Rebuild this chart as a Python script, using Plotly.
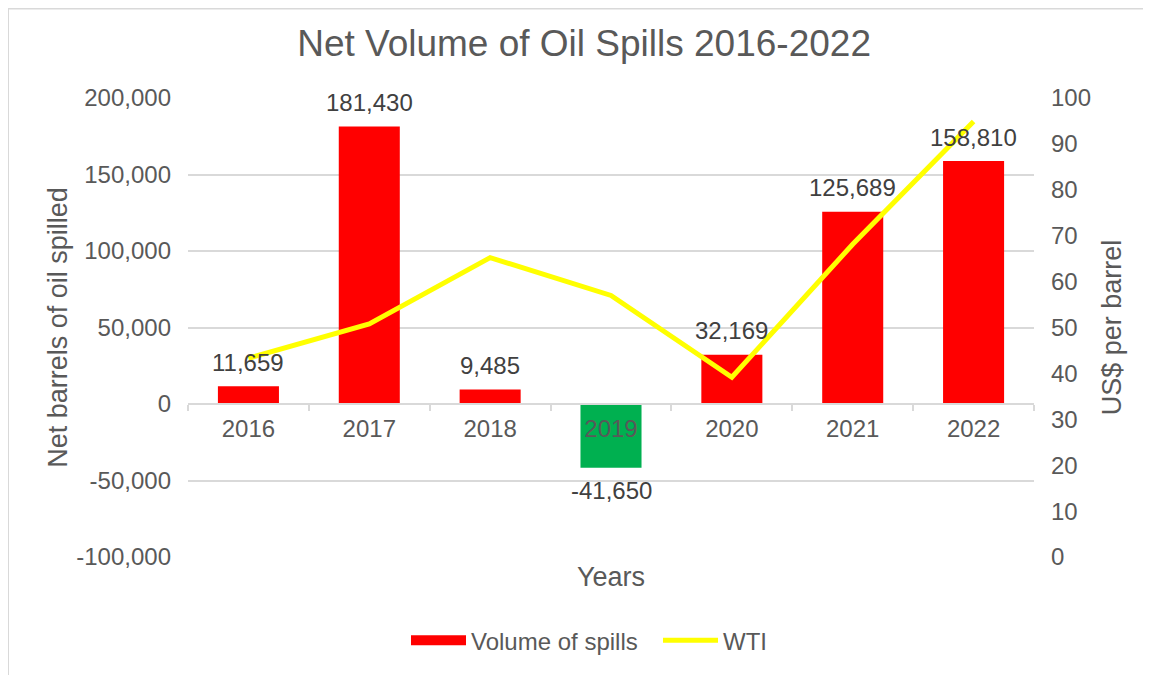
import plotly.graph_objects as go

years = ["2016", "2017", "2018", "2019", "2020", "2021", "2022"]
spill_volume = [11659, 181430, 9485, -41650, 32169, 125689, 158810]
wti_price = [43.29, 50.80, 65.23, 56.99, 39.16, 68.14, 94.90]

left_ticks = [-100000, -50000, 0, 50000, 100000, 150000, 200000]
right_ticks = [0, 10, 20, 30, 40, 50, 60, 70, 80, 90, 100]

RED = "#FF0000"
GREEN = "#00B050"
YELLOW = "#FFFF00"
AXIS_TXT = "#595959"
LABEL_TXT = "#404040"
GRID = "#D9D9D9"
FONT = "Liberation Sans, Arial, Helvetica, sans-serif"

W, H = 1143, 667
ML, MR, MT, MB = 180, 117, 90, 115

bar_colors = [GREEN if v < 0 else RED for v in spill_volume]

fig = go.Figure()
fig.add_trace(go.Bar(
    x=years, y=spill_volume, name="Volume of spills",
    marker=dict(color=bar_colors, line=dict(width=0)),
    showlegend=False, yaxis="y",
))
# legend entry for the bars (wide swatch as in the reference)
fig.add_trace(go.Scatter(
    x=[years[0]], y=[None], mode="lines", name="Volume of spills",
    line=dict(color=RED, width=10), yaxis="y", hoverinfo="skip",
))
fig.add_trace(go.Scatter(
    x=years, y=wti_price, name="WTI", mode="lines",
    line=dict(color=YELLOW, width=5), yaxis="y2",
))

# data labels (category index positions)
for i, v in enumerate(spill_volume):
    fig.add_annotation(
        x=i, y=v, xref="x", yref="y", text=f"{v:,}",
        showarrow=False, yanchor="middle",
        yshift=24 if v >= 0 else -23,
        font=dict(family=FONT, size=24, color=LABEL_TXT),
    )

fig.add_annotation(
    x=0.5, y=-0.044, xref="paper", yref="paper", text="Years",
    showarrow=False, xanchor="center", yanchor="middle",
    font=dict(family=FONT, size=27, color=AXIS_TXT),
)

# chart border
pw = W - ML - MR
ph = H - MT - MB
fig.add_shape(type="rect", xref="paper", yref="paper",
              x0=(0 - ML) / pw, x1=1.5, y0=-0.6, y1=1 + (MT - 0) / ph,
              line=dict(color=GRID, width=2), layer="below")

fig.update_layout(
    width=W, height=H,
    margin=dict(l=ML, r=MR, t=MT, b=MB),
    paper_bgcolor="white", plot_bgcolor="white",
    font=dict(family=FONT, size=24, color=AXIS_TXT),
    title=dict(text="Net Volume of Oil Spills 2016-2022",
               x=0.504, xref="container", xanchor="center",
               y=1 - 35 / H, yref="container", yanchor="middle",
               font=dict(family=FONT, size=37, color=AXIS_TXT)),
    bargap=0.495,
    showlegend=True,
    legend=dict(orientation="h", x=(398 - ML) / pw, y=-0.182,
                xanchor="left", yanchor="middle",
                font=dict(family=FONT, size=24, color=AXIS_TXT),
                itemwidth=55, entrywidth=182, entrywidthmode="pixels",
                bgcolor="rgba(0,0,0,0)"),
    xaxis=dict(
        type="category", categoryorder="array", categoryarray=years,
        range=[-0.5, len(years) - 0.5],
        anchor="free", position=1/3,
        showline=True, linecolor=GRID, linewidth=2,
        ticks="outside", tickson="boundaries", ticklen=6,
        tickcolor=GRID, tickwidth=2, showgrid=False,
        ticklabelstandoff=3,
        tickfont=dict(family=FONT, size=24, color=AXIS_TXT),
    ),
    yaxis=dict(
        domain=[0, 1], range=[-100000, 200000],
        tickvals=left_ticks, ticktext=[f"{v:,}" for v in left_ticks],
        showgrid=True, gridcolor=GRID, gridwidth=2,
        zeroline=False, showline=False, ticks="",
        ticklabelstandoff=16,
        tickfont=dict(family=FONT, size=24, color=AXIS_TXT),
        title=dict(text="Net barrels of oil spilled", standoff=0,
                   font=dict(family=FONT, size=27, color=AXIS_TXT)),
    ),
    yaxis2=dict(
        overlaying="y", side="right", range=[0, 100],
        tickvals=right_ticks, showgrid=False, zeroline=False,
        showline=False, ticks="", ticklabelstandoff=16,
        tickfont=dict(family=FONT, size=24, color=AXIS_TXT),
        title=dict(text="US$ per barrel", standoff=12,
                   font=dict(family=FONT, size=27, color=AXIS_TXT)),
    ),
)

fig.write_html("out.html")
